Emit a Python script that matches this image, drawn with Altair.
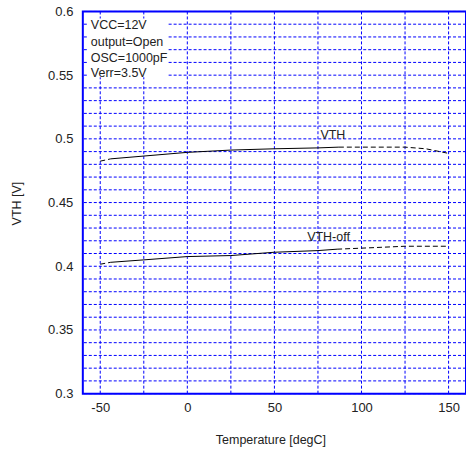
import altair as alt
import pandas as pd

# ---- data ----
vth_temp = [-50, -44, -25, 0, 25, 50, 75, 87, 100, 125, 137, 150]
vth_val = [0.4825, 0.4843, 0.4865, 0.4894, 0.4912, 0.4922, 0.4929, 0.4935, 0.4935, 0.4935, 0.4922, 0.4886]
vth_solid = (1, 7)  # solid between these indices, dashed elsewhere

off_temp = [-50, -44, -25, 0, 25, 50, 75, 86, 100, 125, 150]
off_val = [0.4016, 0.4031, 0.4050, 0.4076, 0.4084, 0.4110, 0.4123, 0.4134, 0.4142, 0.4157, 0.4157]
off_solid = (1, 7)

x_grid = [-50, -25, 0, 25, 50, 75, 100, 125, 150]
y_grid = [round(0.30 + 0.01 * i, 2) for i in range(31)]

cond_text = ["VCC=12V", "output=Open", "OSC=1000pF", "Verr=3.5V"]
cond_y = [0.589, 0.576, 0.5637, 0.552]
cond_x = -55.4

# white background box behind condition text (data units)
box_x1 = [-57]
box_x2 = [-11.3]
box_y1 = [0.5945]
box_y2 = [0.5483]

lab_text = ["VTH", "VTH-off"]
lab_x = [76.4, 68.8]
lab_y = [0.5029, 0.423]


def segs(name, temps, vals, solid):
    rows = []
    a, b = solid
    parts = [("d1", "dash", range(0, a + 1)), ("s", "solid", range(a, b + 1)),
             ("d2", "dash", range(b, len(temps)))]
    for seg, style, idx in parts:
        for i in idx:
            rows.append({"series": name, "seg": name + seg, "style": style,
                         "T": temps[i], "V": vals[i]})
    return rows


rows = segs("VTH", vth_temp, vth_val, vth_solid) + segs("VTH-off", off_temp, off_val, off_solid)
df = pd.DataFrame(rows)
df["order"] = range(len(df))

xscale = alt.Scale(domain=[-60, 160], nice=False, zero=False)
yscale = alt.Scale(domain=[0.3, 0.6], nice=False, zero=False)

FONT = "Liberation Sans"
BLUE = "#0000ff"
TS = 12.5

xaxis = alt.Axis(values=x_grid, labelExpr="datum.value % 50 == 0 ? toString(datum.value) : ''",
                 title="Temperature [degC]", titleX=188, titleY=46, titleBaseline="middle",
                 titleFontWeight="normal", titleFontSize=TS, titleFont=FONT, titleColor="#222",
                 labelPadding=8, labelOverlap=False, grid=False)
yaxis = alt.Axis(values=y_grid,
                 labelExpr="(round(datum.value*100) % 5 == 0) ? toString(round(datum.value*100)/100) : ''",
                 title="VTH [V]", titleX=-66, titleY=192, titleBaseline="middle", titleAngle=-90,
                 titleFontWeight="normal", titleFontSize=TS, titleFont=FONT, titleColor="#222",
                 labelPadding=10, labelOverlap=False, grid=False)

X = lambda f: alt.X(f, scale=xscale, axis=xaxis)
Y = lambda f: alt.Y(f, scale=yscale, axis=yaxis)

vgrid = alt.Chart(pd.DataFrame({"g": x_grid})).mark_rule(
    color=BLUE, strokeWidth=1, strokeDash=[3, 2]
).encode(x=X("g:Q"))

hgrid = alt.Chart(pd.DataFrame({"g": y_grid})).mark_rule(
    color=BLUE, strokeWidth=1, strokeDash=[3, 2]
).encode(y=Y("g:Q"))

base = alt.Chart(df)
solid = base.transform_filter(alt.datum.style == "solid").mark_line(
    color="black", strokeWidth=1
).encode(x=X("T:Q"), y=Y("V:Q"), detail="seg:N", order="order:Q")

dashed = base.transform_filter(alt.datum.style == "dash").mark_line(
    color="black", strokeWidth=1, strokeDash=[5, 3]
).encode(x=X("T:Q"), y=Y("V:Q"), detail="seg:N", order="order:Q")

boxes = alt.Chart(pd.DataFrame({"x1": box_x1, "x2": box_x2, "y1": box_y1, "y2": box_y2})).mark_rect(
    fill="white", opacity=1
).encode(x=X("x1:Q"), x2="x2:Q", y=Y("y1:Q"), y2="y2:Q")

cond = alt.Chart(pd.DataFrame({"t": cond_text, "y": cond_y, "x": [cond_x] * len(cond_text)})).mark_text(
    align="left", baseline="middle", font=FONT, fontSize=TS, color="#222"
).encode(x=X("x:Q"), y=Y("y:Q"), text="t:N")

labels = alt.Chart(pd.DataFrame({"t": lab_text, "x": lab_x, "y": lab_y})).mark_text(
    align="left", baseline="middle", font=FONT, fontSize=TS, color="#222"
).encode(x=X("x:Q"), y=Y("y:Q"), text="t:N")

chart = alt.layer(vgrid, hgrid, boxes, solid, dashed, cond, labels).properties(
    width=384, height=383,
    autosize=alt.AutoSizeParams(type="none"),
    padding={"left": 83, "top": 11, "right": 0, "bottom": 61},
    background="white",
).configure_view(
    stroke=BLUE, strokeWidth=2
).configure_axis(
    domain=False, ticks=False, labelFont=FONT, labelFontSize=13, labelColor="#222",
)

chart.save("out.html", embed_options={"renderer": "svg", "actions": False})
